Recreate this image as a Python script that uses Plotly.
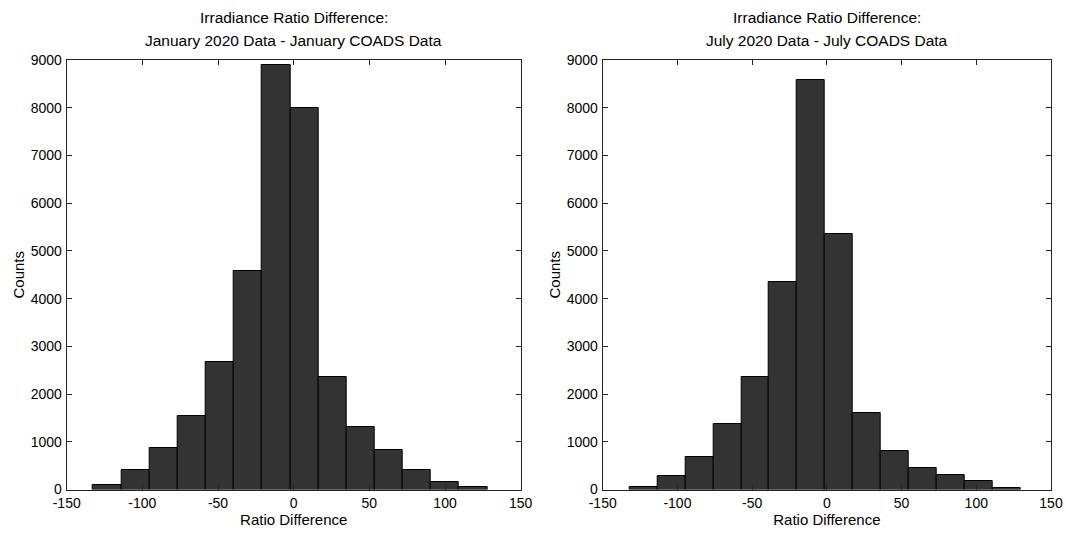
import plotly.graph_objects as go

# ---- data ----
jan_first_edge = -132.5
jan_bin_width = 18.6
jan_counts = [100, 400, 880, 1530, 2670, 4570, 8890, 7990, 2350, 1320, 830, 400, 160, 50]

jul_first_edge = -132.1
jul_bin_width = 18.7
jul_counts = [50, 280, 680, 1380, 2360, 4350, 8580, 5360, 1600, 810, 460, 300, 170, 30]

x_ticks = [-150, -100, -50, 0, 50, 100, 150]
y_ticks = [0, 1000, 2000, 3000, 4000, 5000, 6000, 7000, 8000, 9000]

title_line1 = ["Irradiance Ratio Difference:", "Irradiance Ratio Difference:"]
title_line2 = ["January 2020 Data - January COADS Data", "July 2020 Data - July COADS Data"]

W, H = 1066, 538
FONT = "Liberation Sans, Arial, sans-serif"

def px_x(p):
    return p / W

def px_y(p):
    return 1 - p / H

def centers(first, width, n):
    return [first + width * (i + 0.5) for i in range(n)]

fig = go.Figure()

panels = [
    (jan_first_edge, jan_bin_width, jan_counts, "x", "y"),
    (jul_first_edge, jul_bin_width, jul_counts, "x2", "y2"),
]
for first, width, counts, xa, ya in panels:
    fig.add_trace(go.Bar(
        x=centers(first, width, len(counts)), y=counts, width=width,
        marker=dict(color="#333333", line=dict(color="#000000", width=1)),
        xaxis=xa, yaxis=ya, showlegend=False,
    ))

left_dom = [px_x(66.7), px_x(520.7)]
right_dom = [px_x(602.7), px_x(1051.0)]
y_dom = [px_y(489.5), px_y(60.0)]

axis_common = dict(
    showline=True, linecolor="#222222", linewidth=1, mirror="ticks",
    ticks="inside", ticklen=5, tickcolor="#222222", showgrid=False,
    zeroline=False, automargin=False,
    tickfont=dict(family=FONT, size=14, color="#000"),
)
x_text = [str(v) for v in x_ticks]
y_text = [str(v) for v in y_ticks]

xa = dict(range=[-150, 150], tickvals=x_ticks, ticktext=x_text, ticklabelstandoff=1,
          title=dict(text="Ratio Difference", font=dict(size=15), standoff=4), **axis_common)
ya = dict(range=[0, 9000], tickvals=y_ticks, ticktext=y_text, ticklabelstandoff=1,
          title=dict(text="Counts", font=dict(size=15), standoff=2), **axis_common)

fig.update_layout(
    width=W, height=H, margin=dict(l=0, r=0, t=0, b=0),
    paper_bgcolor="white", plot_bgcolor="white", bargap=0,
    font=dict(family=FONT, color="#000"),
    xaxis=dict(domain=left_dom, anchor="y", **xa),
    yaxis=dict(domain=y_dom, anchor="x", **ya),
    xaxis2=dict(domain=right_dom, anchor="y2", **xa),
    yaxis2=dict(domain=y_dom, anchor="x2", **ya),
)

for i in range(2):
    dom = left_dom if i == 0 else right_dom
    cx = (dom[0] + dom[1]) / 2
    for txt, py in ((title_line1[i], 17), (title_line2[i], 40)):
        fig.add_annotation(
            text=txt, x=cx, y=px_y(py), xref="paper", yref="paper",
            xanchor="center", yanchor="middle", showarrow=False,
            font=dict(family=FONT, size=15.5, color="#000"),
        )

# remove the default page margin so the figure fills the window exactly
fig.write_html(
    "out.html",
    config={"displayModeBar": False},
    post_script=(
        "document.body.style.margin='0';"
        "document.body.style.overflow='hidden';"
        "document.documentElement.style.overflow='hidden';"
    ),
)
